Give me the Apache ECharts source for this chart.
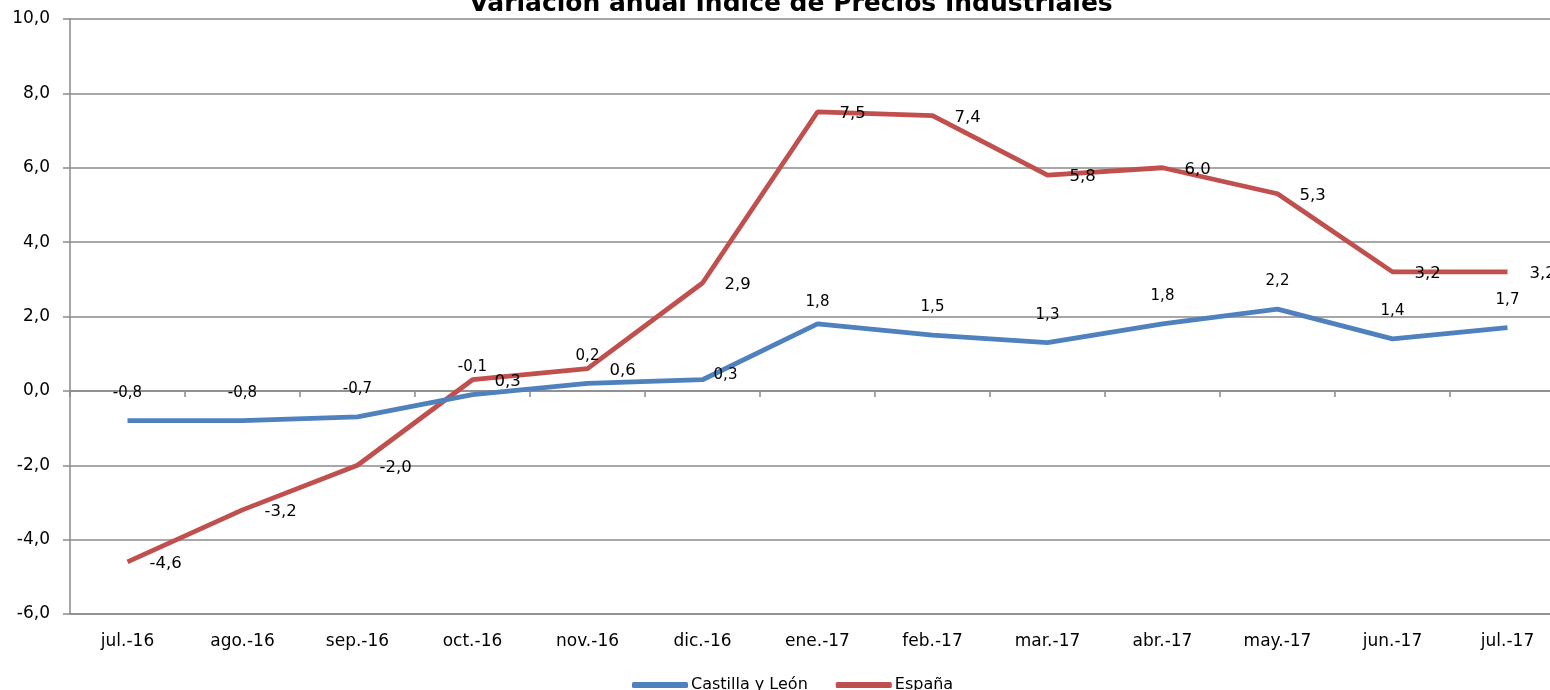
<!DOCTYPE html>
<html>
<head>
<meta charset="utf-8">
<script src="https://cdn.jsdelivr.net/npm/echarts@6/dist/echarts.min.js"></script>
<style>html,body{margin:0;padding:0;background:#fff;overflow:hidden;width:1550px;height:690px}#c{width:1565px;height:690px}</style>
</head>
<body>
<div id="c"></div>
<script>
const categories = ['jul.-16','ago.-16','sep.-16','oct.-16','nov.-16','dic.-16','ene.-17','feb.-17','mar.-17','abr.-17','may.-17','jun.-17','jul.-17'];
const castillaLeon = [-0.8,-0.8,-0.7,-0.1,0.2,0.3,1.8,1.5,1.3,1.8,2.2,1.4,1.7];
const espana = [-4.6,-3.2,-2.0,0.3,0.6,2.9,7.5,7.4,5.8,6.0,5.3,3.2,3.2];
const seriesNames = ['Castilla y León','España'];
const titleText = 'Variación anual Índice de Precios Industriales';

// label placement tweaks (styling only)
const blueLabelOffsets = [[0,0],[0,0],[0,0],[0,0],[0,0],[23,23],[0,6],[0,0],[0,0],[0,0],[0,0],[0,0],[0,0]];

const fmt = v => v.toFixed(1).replace('.', ',');
const FONT = 'DejaVu Sans';
const GRID_COLOR = '#8a8a8a';

const chart = echarts.init(document.getElementById('c'), null, {renderer:'canvas'});
chart.setOption({
  animation: false,
  backgroundColor: '#fff',
  textStyle: {fontFamily: FONT},
  title: {
    text: titleText,
    left: 786, top: -13,
    textAlign: 'center',
    textStyle: {fontFamily: FONT, fontWeight: 'bold', fontSize: 25, color: '#000'}
  },
  legend: {
    data: seriesNames,
    left: 627, top: 672,
    icon: 'roundRect',
    itemWidth: 56, itemHeight: 6, itemGap: 28,
    textStyle: {fontFamily: FONT, fontSize: 16, color: '#000', padding: [0,0,0,-2]}
  },
  grid: {left: 70, right: 0, top: 19, bottom: 76, containLabel: false},
  xAxis: [{
    type: 'category', data: categories, boundaryGap: true, position: 'bottom',
    axisLine: {show: true, onZero: false, lineStyle: {color: GRID_COLOR, width: 1.5}},
    axisTick: {show: false},
    axisLabel: {fontFamily: FONT, fontSize: 17, color: '#000', margin: 19},
    splitLine: {show: false}
  },{
    type: 'category', data: categories, boundaryGap: true, position: 'top',
    axisLine: {show: true, onZero: true, lineStyle: {color: GRID_COLOR, width: 1.5}},
    axisTick: {show: true, inside: true, length: 6, lineStyle: {color: GRID_COLOR, width: 1.5}},
    axisLabel: {show: false},
    splitLine: {show: false}
  }],
  yAxis: {
    type: 'value', min: -6, max: 10, interval: 2,
    axisLine: {show: true, lineStyle: {color: GRID_COLOR, width: 1.5}},
    axisTick: {show: true, length: 7, lineStyle: {color: GRID_COLOR, width: 1.5}},
    axisLabel: {fontFamily: FONT, fontSize: 17, color: '#000', margin: 20, formatter: v => fmt(v)},
    splitLine: {show: true, lineStyle: {color: GRID_COLOR, width: 1.5}}
  },
  series: [{
    name: seriesNames[0], type: 'line', xAxisIndex: 0,
    data: castillaLeon.map((v,i) => ({value: v, label: {offset: blueLabelOffsets[i]}})),
    symbol: 'circle', symbolSize: 0, showSymbol: true,
    lineStyle: {color: '#4F81BD', width: 4.8},
    itemStyle: {color: '#4F81BD'},
    label: {show: true, position: 'top', distance: 20, fontFamily: FONT, fontSize: 15, color: '#000', formatter: p => fmt(p.value)},
    z: 3
  },{
    name: seriesNames[1], type: 'line', xAxisIndex: 0,
    data: espana,
    symbol: 'circle', symbolSize: 0, showSymbol: true,
    lineStyle: {color: '#C0504D', width: 4.8},
    itemStyle: {color: '#C0504D'},
    label: {show: true, position: 'right', distance: 22, offset: [0, 2], fontFamily: FONT, fontSize: 16.5, color: '#000', formatter: p => fmt(p.value)},
    z: 2
  }]
});
</script>
</body>
</html>
